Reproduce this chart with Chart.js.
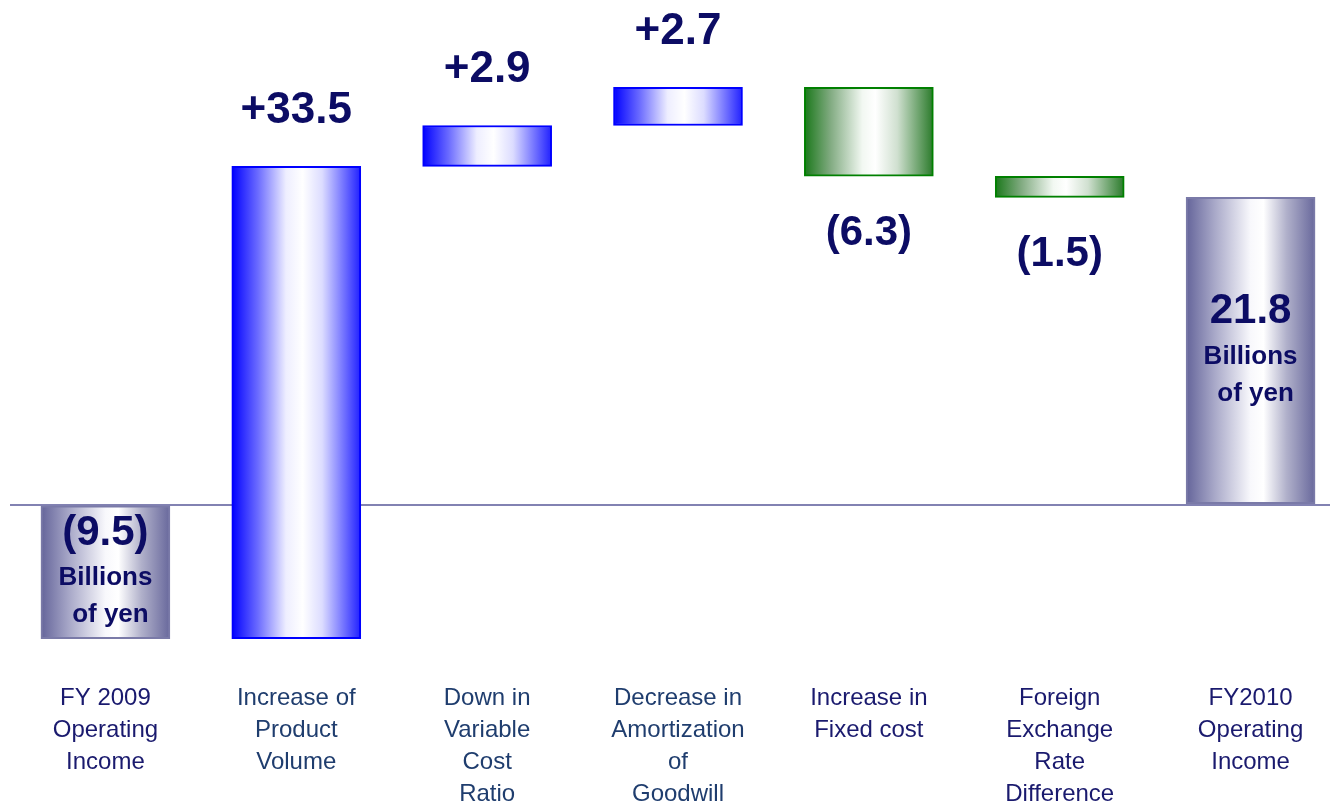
<!DOCTYPE html>
<html><head><meta charset="utf-8">
<script src="https://cdn.jsdelivr.net/npm/chart.js@4/dist/chart.umd.min.js"></script>
<style>
html,body{margin:0;padding:0;background:#fff;overflow:hidden;width:1330px;height:807px}
#wrap{width:1346px;height:807px}
</style></head>
<body><div id="wrap"><canvas id="c" width="1346" height="807"></canvas></div>
<script>
const categories = [
  ["FY 2009","Operating","Income"],
  ["Increase of","Product","Volume"],
  ["Down in","Variable","Cost","Ratio"],
  ["Decrease in","Amortization","of","Goodwill"],
  ["Increase in","Fixed cost"],
  ["Foreign","Exchange","Rate","Difference"],
  ["FY2010","Operating","Income"]
];
const startValue = -9.5;
const changes = [33.5, 2.9, 2.7, -6.3, -1.5];
const endValue = 21.8;
const valueLabels = ["(9.5)","+33.5","+2.9","+2.7","(6.3)","(1.5)","21.8"];
const unitLabel = ["Billions","of yen"];
const barKinds = ["total","up","up","up","down","down","total"];

// floating bar ranges built from the values above
const ranges = [[startValue, 0]];
let run = startValue;
changes.forEach(c => {
  const nxt = Math.round((run + c) * 10) / 10;
  ranges.push([Math.min(run, nxt), Math.max(run, nxt)]);
  run = nxt;
});
ranges.push([0, endValue]);

const FONT = '"Liberation Sans", Arial, sans-serif';
const BAR_W = 129;

const stopsByKind = {
  up:    [[0,'#0000ff'],[0.2,'#6a6aff'],[0.42,'#eeeeff'],[0.55,'#ffffff'],[0.7,'#dcdcff'],[1,'#2020ff']],
  down:  [[0,'#1a781a'],[0.2,'#80aa80'],[0.45,'#f2f8f2'],[0.55,'#ffffff'],[0.72,'#d0e0d0'],[1,'#2a7a2a']],
  total: [[0,'#64649a'],[0.22,'#a8a8c8'],[0.5,'#f8f8fc'],[0.6,'#ffffff'],[0.78,'#b0b0ca'],[1,'#68689c']]
};
const borderByKind = { up:'#0000ff', down:'#008000', total:'#7a7aa8' };
const fallbackByKind = { up:'#4a4aff', down:'#5a9a5a', total:'#9a9ac0' };

function barFill(ctx) {
  const chart = ctx.chart;
  const i = ctx.dataIndex;
  const kind = barKinds[i];
  if (!chart.chartArea || !chart.scales.x) return fallbackByKind[kind];
  const cx = chart.scales.x.getPixelForValue(i);
  const g = chart.ctx.createLinearGradient(cx - BAR_W/2, 0, cx + BAR_W/2, 0);
  stopsByKind[kind].forEach(s => g.addColorStop(s[0], s[1]));
  return g;
}

const tickColors = ['#1a1a6e','#1f3d6e','#1f3d6e','#1f3d6e','#1a1a6e','#1a1a6e','#1a1a6e'];

const labelPlugin = {
  id: 'valueLabels',
  afterDatasetsDraw(chart) {
    const c = chart.ctx;
    const meta = chart.getDatasetMeta(0);
    c.save();
    c.fillStyle = '#0c0c64';
    c.textAlign = 'center';
    c.textBaseline = 'middle';
    meta.data.forEach((el, i) => {
      const top = Math.min(el.y, el.base), bottom = Math.max(el.y, el.base);
      const cx = el.x;
      const kind = barKinds[i];
      if (kind === 'up') {
        c.font = 'bold 44px ' + FONT;
        c.fillText(valueLabels[i], cx, top - 56);
      } else if (kind === 'down') {
        c.font = 'bold 42px ' + FONT;
        c.fillText(valueLabels[i], cx, bottom + 57);
      } else {
        const mid = (top + bottom) / 2;
        c.font = 'bold 42px ' + FONT;
        c.fillText(valueLabels[i], cx, mid - 39);
        c.font = 'bold 26px ' + FONT;
        c.fillText(unitLabel[0], cx, mid + 6);
        c.fillText(unitLabel[1], cx + 5, mid + 43);
      }
    });
    c.restore();
  }
};

new Chart(document.getElementById('c'), {
  type: 'bar',
  data: {
    labels: categories,
    datasets: [{
      data: ranges,
      backgroundColor: barFill,
      borderColor: ctx => borderByKind[barKinds[ctx.dataIndex]],
      borderWidth: 2,
      borderSkipped: false,
      barThickness: BAR_W
    }]
  },
  options: {
    responsive: false,
    devicePixelRatio: 1,
    animation: false,
    layout: { padding: { left: 10, right: 0, top: 0, bottom: 0 } },
    plugins: { legend: { display: false }, tooltip: { enabled: false } },
    scales: {
      x: {
        type: 'category',
        offset: true,
        grid: { display: false, drawTicks: false },
        border: { display: false },
        ticks: {
          autoSkip: false,
          maxRotation: 0,
          padding: 25,
          color: ctx => tickColors[ctx.index],
          font: { family: FONT, size: 24, lineHeight: 32/24 }
        },
        afterFit: s => { s.height = 150; }
      },
      y: {
        min: -10.8,
        max: 35.8,
        z: 1,
        border: { display: false },
        ticks: { display: false, stepSize: 5 },
        grid: {
          drawTicks: false,
          lineWidth: 2,
          color: ctx => (ctx.tick && ctx.tick.value === 0) ? '#8282b2' : 'rgba(0,0,0,0)'
        },
        afterFit: s => { s.width = 0; }
      }
    }
  },
  plugins: [labelPlugin]
});
</script>
</body></html>
